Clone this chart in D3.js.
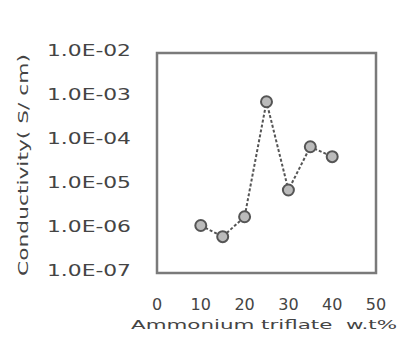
<!DOCTYPE html>
<html>
<head>
<meta charset="utf-8">
<script src="https://cdn.jsdelivr.net/npm/d3@7"></script>
<style>
  body { margin: 0; background: #fff; }
  text { font-family: "DejaVu Sans", sans-serif; fill: #444; }
</style>
</head>
<body>
<div id="chart"></div>
<script>
var width = 403;
var height = 350;

var saltWt = [10, 15, 20, 25, 30, 35, 40];
var conductivity = [1.2e-6, 6.7e-7, 1.9e-6, 7.8e-4, 7.7e-6, 7.4e-5, 4.4e-5];
var xTicks = [0, 10, 20, 30, 40, 50];
var yTicks = [1e-7, 1e-6, 1e-5, 1e-4, 1e-3, 1e-2];
var yTickLabels = ["1.0E-07", "1.0E-06", "1.0E-05", "1.0E-04", "1.0E-03", "1.0E-02"];

var plotLeft = 157, plotRight = 376, plotTop = 53, plotBottom = 273;

var svg = d3.select('#chart').append('svg')
  .attr('width', width)
  .attr('height', height);

var x = d3.scaleLinear().domain([0, 50]).range([plotLeft, plotRight]);
var y = d3.scaleLog().domain([1e-7, 1e-2]).range([plotBottom, plotTop]);

// frame
svg.append('rect')
  .attr('x', plotLeft)
  .attr('y', plotTop)
  .attr('width', plotRight - plotLeft)
  .attr('height', plotBottom - plotTop)
  .attr('style', 'fill:none; stroke:#7a7a7a; stroke-width:2.5');

// y tick labels
svg.append('g').selectAll('text')
  .data(yTicks)
  .enter().append('text')
  .attr('x', 131)
  .attr('y', function(d) { return y(d) - 2; })
  .attr('text-anchor', 'end')
  .attr('dominant-baseline', 'middle')
  .attr('font-size', 15)
  .attr('textLength', 84)
  .attr('lengthAdjust', 'spacingAndGlyphs')
  .text(function(d, i) { return yTickLabels[i]; });

// x tick labels
svg.append('g').selectAll('text')
  .data(xTicks)
  .enter().append('text')
  .attr('x', function(d) { return x(d); })
  .attr('y', 305)
  .attr('text-anchor', 'middle')
  .attr('dominant-baseline', 'middle')
  .attr('font-size', 16)
  .text(function(d) { return d; });

svg.append('text')
  .attr('x', 264)
  .attr('y', 325)
  .attr('text-anchor', 'middle')
  .attr('dominant-baseline', 'middle')
  .attr('font-size', 13)
  .attr('textLength', 266)
  .attr('lengthAdjust', 'spacingAndGlyphs')
  .attr('style', 'white-space:pre')
  .text('Ammonium triflate  w.t%');

svg.append('text')
  .attr('transform', 'translate(24,165) rotate(-90)')
  .attr('text-anchor', 'middle')
  .attr('dominant-baseline', 'middle')
  .attr('font-size', 14)
  .attr('textLength', 222)
  .attr('lengthAdjust', 'spacingAndGlyphs')
  .text('Conductivity( S/ cm)');

var pts = saltWt.map(function(d, i) { return [d, conductivity[i]]; });

var line = d3.line()
  .x(function(d) { return x(d[0]); })
  .y(function(d) { return y(d[1]); });

svg.append('path')
  .attr('d', line(pts))
  .attr('style', 'fill:none; stroke:#555; stroke-width:2; stroke-dasharray:3,2');

svg.append('g').selectAll('circle')
  .data(pts)
  .enter().append('circle')
  .attr('cx', function(d) { return x(d[0]); })
  .attr('cy', function(d) { return y(d[1]); })
  .attr('r', 5.5)
  .attr('style', 'fill:#bbb; stroke:#555; stroke-width:2');
</script>
</body>
</html>
